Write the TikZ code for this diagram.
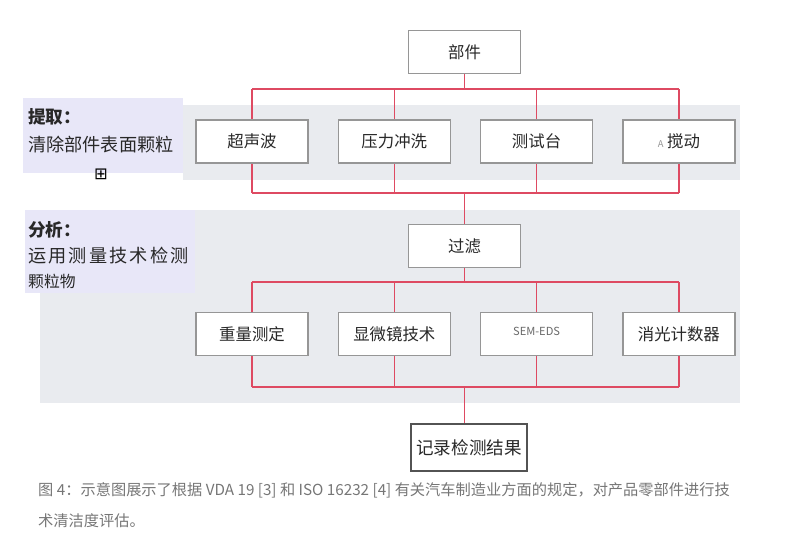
\documentclass[tikz,border=0pt]{standalone}
\usepackage{fontspec}
\setmainfont{Noto Sans CJK SC}
\newfontfamily\symfont{DejaVu Sans}
\usetikzlibrary{positioning}

\definecolor{linkred}{RGB}{222,74,98}
\definecolor{bandgray}{RGB}{233,235,239}
\definecolor{lavender}{RGB}{232,231,248}
\definecolor{boxgray}{RGB}{150,150,150}
\definecolor{inkdark}{RGB}{40,40,40}
\definecolor{captiongray}{RGB}{118,118,118}

\pgfdeclarelayer{background}
\pgfsetlayers{background,main}

\begin{document}
\begin{tikzpicture}[
            x=0.03cm, y=-0.03cm,
            box/.style={rectangle, draw=boxgray, fill=white, line width=1.1pt, minimum width=3.36cm, minimum height=1.29cm, inner sep=0pt, text=inkdark, font=\fontsize{14}{16}\selectfont},
            link/.style={draw=linkred, line width=1.3pt},
            label/.style={anchor=west, inner sep=0pt, text=inkdark, font=\fontsize{15.5}{17}\selectfont}
        ]
            \useasboundingbox (0,0) rectangle (786,536);

            % Nodes
            \node[box] (parts) at (464.5,52) {部件};
            \node[box] (ultra) at (252,141.5) {超声波\hspace{1.2em}};
            \node[box, right=0.87cm of ultra] (press) {压力冲洗\hspace{0.5em}};
            \node[box, right=0.87cm of press] (bench) {测试台};
            \node[box, right=0.87cm of bench] (stir) {{\fontsize{8}{9}\selectfont\color{boxgray}A} 搅动};
            \node[box] (filter) at (464.5,246) {过滤};
            \node[box] (grav) at (252,334) {\raisebox{-0.5ex}{重量测定}\hspace{1.4em}};
            \node[box, right=0.87cm of grav] (micro) {显微镜技术};
            \node[box, right=0.87cm of micro] (sem) {\raisebox{0.6ex}{\fontsize{9.5}{10}\selectfont\color{captiongray!90!black}SEM-EDS}};
            \node[box, right=0.87cm of sem] (extin) {\raisebox{-0.3ex}{消光计数器}};
            \node[box, draw=inkdark!80, minimum width=3.48cm, minimum height=1.41cm, font=\fontsize{15}{17}\selectfont] (record) at (469,447.5) {记录检测结果};

            % Side labels
            \node[label, font=\fontsize{15}{17}\selectfont\bfseries] (extract) at (28,117) {提取：};
            \node[label] (extractdesc) at (28,145) {清除部件表面颗粒};
            \node[label, font=\fontsize{14}{15}\symfont, text=black] (marker) at (94,174) {⊞};
            \node[label, font=\fontsize{15}{17}\selectfont\bfseries] (analyse) at (28,230) {分析：};
            \node[label] (analysedesc) at (28,256) {\addfontfeature{LetterSpace=12}运用测量技术检测};
            \node[label, font=\fontsize{13.5}{15}\selectfont] (analysedesc2) at (28,281) {颗粒物};

            % Caption
            \node[label, text=captiongray, font=\fontsize{13}{14}\selectfont] (caption1) at (38,490) {图 4：示意图展示了根据 VDA 19 [3] 和 ISO 16232 [4] 有关汽车制造业方面的规定，对产品零部件进行技};
            \node[label, text=captiongray, font=\fontsize{13}{14}\selectfont] (caption2) at (38,521) {术清洁度评估。};

            \coordinate (topbusA) at (464.5,89);
            \coordinate (botbusA) at (464.5,193);
            \coordinate (topbusB) at (464.5,282);
            \coordinate (botbusB) at (464.5,387);

            \begin{pgfonlayer}{background}
                % Bands
                \fill[bandgray] (183,105) rectangle (740,180);
                \fill[lavender] (23,98) rectangle (183,173);
                \fill[bandgray] (40,210) rectangle (740,403);
                \fill[lavender] (25,210) rectangle (195,293);

                % Arrows
                \draw[link] (parts) -- (topbusA);
                \draw[link] (ultra |- topbusA) -- (stir |- topbusA);
                \foreach \n in {ultra,press,bench,stir}
                    \draw[link] (\n |- topbusA) -- (\n |- botbusA);
                \draw[link] (ultra |- botbusA) -- (stir |- botbusA);
                \draw[link] (botbusA) -- (filter);
                \draw[link] (filter) -- (topbusB);
                \draw[link] (grav |- topbusB) -- (extin |- topbusB);
                \foreach \n in {grav,micro,sem,extin}
                    \draw[link] (\n |- topbusB) -- (\n |- botbusB);
                \draw[link] (grav |- botbusB) -- (extin |- botbusB);
                \draw[link] (botbusB) -- (botbusB |- record.north);
            \end{pgfonlayer}
        \end{tikzpicture}
\end{document}
